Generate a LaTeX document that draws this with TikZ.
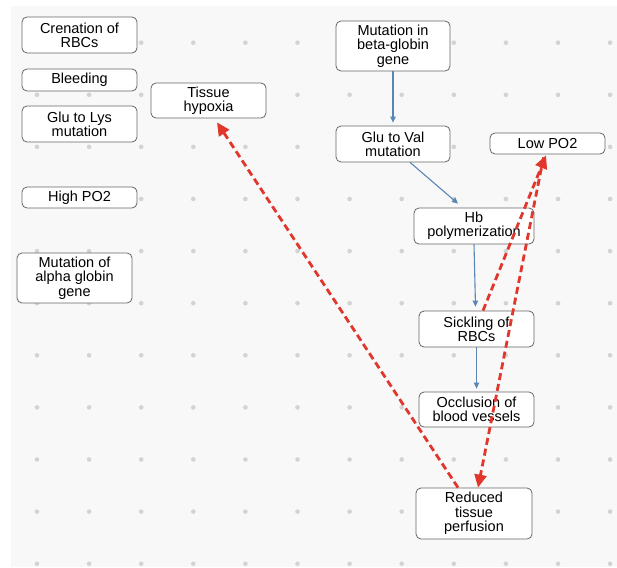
\documentclass[tikz,border=0pt]{standalone}
\usepackage{fontspec}
\setmainfont{Liberation Sans}
\usetikzlibrary{arrows.meta,calc}
\definecolor{bgc}{HTML}{F8F8F8}
\definecolor{dotc}{HTML}{D3D3D3}
\definecolor{boxc}{HTML}{666666}
\definecolor{bluec}{HTML}{5A86B4}
\definecolor{redc}{HTML}{E0362C}
\begin{document}
\begin{tikzpicture}[x=1pt,y=-1pt,
  box/.style={draw=boxc, line width=0.8pt, fill=white, rounded corners=5pt, align=center, inner sep=0pt, minimum width=115pt, font=\fontsize{14.5}{14.3}\selectfont},
  bluearr/.style={draw=bluec, line width=1.1pt, -{Triangle[length=6pt,width=5.5pt]}},
  redarr/.style={draw=redc, line width=2.8pt, dash pattern=on 7pt off 4pt, -{Triangle[length=13pt,width=12pt]}}]
\useasboundingbox (0,0) rectangle (617,567);
\fill[bgc] (11,6) rectangle (617,567);
\foreach \i in {0,...,11}
  \foreach \j in {0,...,10}
    \fill[dotc] (37+52.1*\i, 42.7+52.1*\j) circle (2.3pt);

% left column
\node[box, minimum height=36pt] (cren) at (79.5,35) {Crenation of\\RBCs};
\node[box, minimum height=22pt] (bleed) at (79.5,80) {Bleeding};
\node[box, minimum height=36pt] (glulys) at (79.5,124) {Glu to Lys\\mutation};
\node[box, minimum height=21pt] (highpo) at (79.5,197.5) {High PO2};
\node[box, minimum height=50pt] (alpha) at (74.5,278) {Mutation of\\alpha globin\\gene};
\node[box, minimum height=35pt] (hypox) at (208.5,100.5) {Tissue\\hypoxia};

% right chain
\node[box, minimum width=114pt, minimum height=50pt] (beta) at (393,46) {Mutation in\\beta-globin\\gene};
\node[box, minimum width=114pt, minimum height=36pt] (gluval) at (393,144) {Glu to Val\\mutation};
\node[box, minimum height=21pt] (lowpo) at (547.5,143.5) {Low PO2};
\node[box, minimum width=120pt, minimum height=36pt] (hbpoly) at (474,226) {Hb\\polymerization};
\node[box, minimum height=36pt] (sickle) at (476.5,329) {Sickling of\\RBCs};
\node[box, minimum height=35pt] (occl) at (476.5,409.5) {Occlusion of\\blood vessels};
\node[box, minimum width=116pt, minimum height=51pt] (reduced) at (474,513.5) {Reduced\\tissue\\perfusion};

% blue arrows
\draw[bluearr] (beta.south) -- ([yshift=3pt]gluval.north);
\draw[bluearr] ([xshift=17pt]gluval.south) -- ([xshift=-16pt,yshift=4pt]hbpoly.north);
\draw[bluearr] (hbpoly.south) -- ([xshift=-1pt,yshift=4pt]sickle.north);
\draw[bluearr] (sickle.south) -- ([yshift=3pt]occl.north);

% red dashed arrows
\draw[redarr] ([xshift=-16pt]reduced.north) -- ([xshift=8.5pt,yshift=-4pt]hypox.south);
\draw[redarr] ([xshift=6.5pt]sickle.north) -- ([xshift=-1.5pt,yshift=-1pt]lowpo.south);
\draw[redarr] ([xshift=-4pt,yshift=-3pt]lowpo.south) -- ([xshift=4pt]reduced.north);
\end{tikzpicture}
\end{document}
